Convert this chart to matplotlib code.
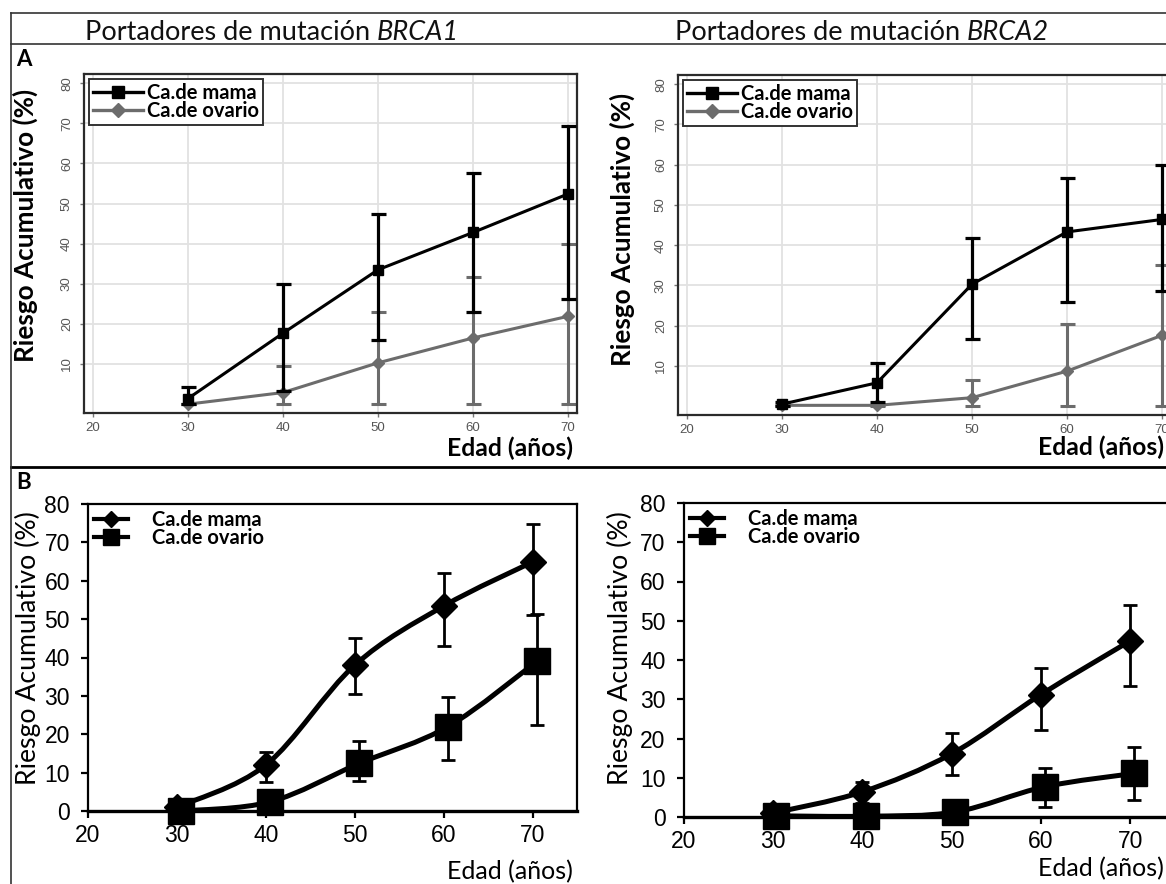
import numpy as np
import matplotlib
matplotlib.use("Agg")
import matplotlib.pyplot as plt
from matplotlib.lines import Line2D
from matplotlib.path import Path
from matplotlib.patches import PathPatch

plt.rcParams['font.family'] = ['Lato', 'DejaVu Sans']

# ---- data ----
ages = [30, 40, 50, 60, 70]
x_ticks = [20, 30, 40, 50, 60, 70]
a_yticks = [10, 20, 30, 40, 50, 60, 70, 80]
b_yticks = [0, 10, 20, 30, 40, 50, 60, 70, 80]
labels = ['Ca.de mama', 'Ca.de ovario']
genes = ['BRCA1', 'BRCA2']

# A, BRCA1
a1_mama = [1.4, 17.7, 33.5, 42.8, 52.4]
a1_mama_lo = [0.0, 3.2, 16.1, 23.0, 26.2]
a1_mama_hi = [4.4, 30.0, 47.5, 57.6, 69.4]
a1_ova = [0.0, 2.9, 10.3, 16.5, 21.9]
a1_ova_lo = [0.0, 0.0, 0.0, 0.0, 0.0]
a1_ova_hi = [0.0, 9.4, 23.0, 31.8, 40.0]

# A, BRCA2
a2_mama = [0.5, 5.8, 30.3, 43.3, 46.4]
a2_mama_lo = [0.0, 1.0, 16.6, 25.9, 28.6]
a2_mama_hi = [1.0, 10.7, 41.8, 56.6, 59.9]
a2_ova = [0.2, 0.2, 2.1, 8.7, 17.6]
a2_ova_lo = [0.0, 0.0, 0.0, 0.0, 0.0]
a2_ova_hi = [0.2, 0.2, 6.6, 20.5, 35.2]

# B, BRCA1
b1_mama = [1.0, 12.0, 38.0, 53.4, 64.9]
b1_mama_lo = [0.0, 7.6, 30.5, 43.1, 51.0]
b1_mama_hi = [1.0, 15.4, 45.1, 62.0, 74.8]
b1_ova = [0.0, 2.4, 12.4, 22.0, 39.0]
b1_ova_lo = [0.0, 0.0, 7.9, 13.3, 22.4]
b1_ova_hi = [0.0, 2.4, 18.3, 29.8, 51.4]

# B, BRCA2
b2_mama = [1.0, 6.4, 16.1, 31.2, 44.9]
b2_mama_lo = [0.5, 3.5, 10.7, 22.2, 33.3]
b2_mama_hi = [1.5, 9.0, 21.4, 37.9, 54.0]
b2_ova = [0.3, 0.2, 1.3, 7.7, 11.1]
b2_ova_lo = [0.0, 0.0, 0.0, 2.6, 4.3]
b2_ova_hi = [0.3, 0.2, 1.3, 12.4, 17.9]

W, H = 1166, 884
fig = plt.figure(figsize=(W / 100, H / 100), dpi=100)
fig.patch.set_facecolor('white')


def fx(px):
    return px / W


def fy(py):
    return 1 - py / H


def rect(left, top, right, bottom):
    return [fx(left), fy(bottom), (right - left) / W, (bottom - top) / H]


def yerr(v, lo, hi):
    return [np.subtract(v, lo), np.subtract(hi, v)]


def smooth(x, y):
    # catmull-rom through the points, as bezier segments
    pts = np.column_stack([x, y])
    p = np.vstack([pts[0], pts, pts[-1]])
    verts, codes = [pts[0]], [Path.MOVETO]
    for i in range(1, len(p) - 2):
        verts += [p[i] + (p[i + 1] - p[i - 1]) / 6,
                  p[i + 1] - (p[i + 2] - p[i]) / 6,
                  p[i + 1]]
        codes += [Path.CURVE4] * 3
    return Path(verts, codes)


GRAY = '#6c6c6c'
LEG_SIZE = 14.5


def panel_a(r, mama, mlo, mhi, ova, olo, ohi):
    ax = fig.add_axes(r)
    ax.set_xlim(19.05, 70.95)
    ax.set_ylim(-2.2, 82.3)
    ax.set_xticks(x_ticks)
    ax.set_yticks(a_yticks)
    ax.grid(True, color='#e2e2e2', lw=1.3)
    ax.set_axisbelow(True)
    ax.errorbar(ages, ova, yerr=yerr(ova, olo, ohi), fmt='none', ecolor=GRAY,
                elinewidth=2.2, capsize=5.4, capthick=2.2, zorder=2)
    ax.plot(ages, ova, color=GRAY, lw=2.2, marker='D', ms=6.5, zorder=3)
    ax.errorbar(ages, mama, yerr=yerr(mama, mlo, mhi), fmt='none', ecolor='black',
                elinewidth=2.3, capsize=5.4, capthick=2.3, zorder=4)
    ax.plot(ages, mama, color='black', lw=2.2, marker='s', ms=7.5, zorder=5)
    for s in ax.spines.values():
        s.set_color('#2b2b2b')
        s.set_linewidth(1.6)
    ax.tick_params(length=3, width=1, color='#777', pad=3.5, labelsize=9.5,
                   labelcolor='#555')
    ax.tick_params(axis='y', labelrotation=90, pad=5)
    for t in ax.get_xticklabels() + ax.get_yticklabels():
        t.set_fontfamily('Liberation Sans')
    for t in ax.get_yticklabels():
        t.set_va('center')
    hs = [Line2D([], [], color='black', lw=2.4, marker='s', ms=8),
          Line2D([], [], color=GRAY, lw=2.4, marker='D', ms=7)]
    leg = ax.legend(hs, labels, loc='upper left', fancybox=False, framealpha=1,
                    edgecolor='#333', prop={'weight': 'bold', 'size': LEG_SIZE},
                    handlelength=2.5, handletextpad=0.2, borderpad=0.2,
                    labelspacing=-0.1, borderaxespad=0.25)
    leg.get_frame().set_linewidth(1.4)
    return ax


def panel_b(r, mama, mlo, mhi, ova, olo, ohi, dodge):
    ax = fig.add_axes(r)
    ax.set_xlim(20, 75)
    ax.set_ylim(0, 80)
    ax.set_xticks(x_ticks)
    ax.set_yticks(b_yticks)
    xo = np.add(ages, dodge)
    ax.errorbar(ages, mama, yerr=yerr(mama, mlo, mhi), fmt='none', ecolor='black',
                elinewidth=2, capsize=4.8, capthick=2, zorder=2, clip_on=False)
    ax.errorbar(xo, ova, yerr=yerr(ova, olo, ohi), fmt='none', ecolor='black',
                elinewidth=2, capsize=4.8, capthick=2, zorder=2, clip_on=False)
    ax.add_patch(PathPatch(smooth(ages, mama), fc='none', ec='black', lw=3.6, zorder=3))
    ax.add_patch(PathPatch(smooth(xo, ova), fc='none', ec='black', lw=3.6, zorder=3))
    ax.plot(ages, mama, ls='none', marker='D', ms=13.5, color='black', zorder=4,
            clip_on=False)
    ax.plot(xo, ova, ls='none', marker='s', ms=19, color='black', zorder=4,
            clip_on=False)
    for s in ax.spines.values():
        s.set_color('black')
        s.set_linewidth(1.6)
    ax.spines['bottom'].set_linewidth(2.4)
    ax.tick_params(direction='out', length=5, width=1.6, labelsize=16.5,
                   colors='black')
    ax.tick_params(axis='x', pad=4.5)
    ax.tick_params(axis='y', pad=8)
    for t in ax.get_xticklabels() + ax.get_yticklabels():
        t.set_fontfamily('Liberation Sans')
    hs = [Line2D([], [], color='black', lw=3, marker='D', ms=8),
          Line2D([], [], color='black', lw=3, marker='s', ms=11)]
    ax.legend(hs, labels, loc='upper left', frameon=False,
              prop={'weight': 'bold', 'size': LEG_SIZE}, handlelength=1.7,
              handletextpad=1.2, borderpad=0.1, labelspacing=-0.1,
              borderaxespad=0.2)
    return ax


panel_a(rect(84, 74, 577, 413), a1_mama, a1_mama_lo, a1_mama_hi,
        a1_ova, a1_ova_lo, a1_ova_hi)
panel_a(rect(678, 75, 1171, 415), a2_mama, a2_mama_lo, a2_mama_hi,
        a2_ova, a2_ova_lo, a2_ova_hi)
panel_b(rect(88, 504, 577, 811), b1_mama, b1_mama_lo, b1_mama_hi,
        b1_ova, b1_ova_lo, b1_ova_hi, 0.5)
panel_b(rect(683.5, 503, 1175, 817), b2_mama, b2_mama_lo, b2_mama_hi,
        b2_ova, b2_ova_lo, b2_ova_hi, 0.4)

# frame lines of the composite
fig.add_artist(Line2D([fx(11), 1], [fy(13)] * 2, color='#333', lw=1.2))
fig.add_artist(Line2D([fx(11), 1], [fy(44)] * 2, color='#333', lw=1.2))
fig.add_artist(Line2D([fx(11), 1], [fy(467)] * 2, color='black', lw=2))
fig.add_artist(Line2D([fx(11)] * 2, [fy(13), 0], color='#333', lw=1.2))

# column titles: regular text followed by the gene name in italics
renderer = fig.canvas.get_renderer()
for x0, gene in zip([85, 675], genes):
    t = fig.text(fx(x0), fy(40), 'Portadores de mutación ', fontsize=19.5,
                 va='baseline', ha='left', color='#111')
    x1 = t.get_window_extent(renderer).x1
    fig.text(x1 / W, fy(40), gene, fontsize=19.5, style='italic',
             va='baseline', ha='left', color='#111')

fig.text(fx(16), fy(60), 'A', fontsize=16, weight='bold', va='center', ha='left')
fig.text(fx(16), fy(483), 'B', fontsize=16, weight='bold', va='center', ha='left')

ylab = 'Riesgo Acumulativo (%)'
fig.text(fx(25), fy(225), ylab, rotation=90, fontsize=18.8, weight='bold',
         ha='center', va='center')
fig.text(fx(622), fy(229), ylab, rotation=90, fontsize=18.8, weight='bold',
         ha='center', va='center')
fig.text(fx(28), fy(648), ylab, rotation=90, fontsize=19.2,
         ha='center', va='center')
fig.text(fx(620), fy(648), ylab, rotation=90, fontsize=19.2,
         ha='center', va='center')

xlab = 'Edad (años)'
fig.text(fx(573), fy(448), xlab, fontsize=17.8, weight='bold', ha='right', va='center')
fig.text(fx(1164), fy(447), xlab, fontsize=17.8, weight='bold', ha='right', va='center')
fig.text(fx(573), fy(872), xlab, fontsize=18, ha='right', va='center')
fig.text(fx(1164), fy(869), xlab, fontsize=18, ha='right', va='center')

fig.savefig('out.png', dpi=100, facecolor='white')
